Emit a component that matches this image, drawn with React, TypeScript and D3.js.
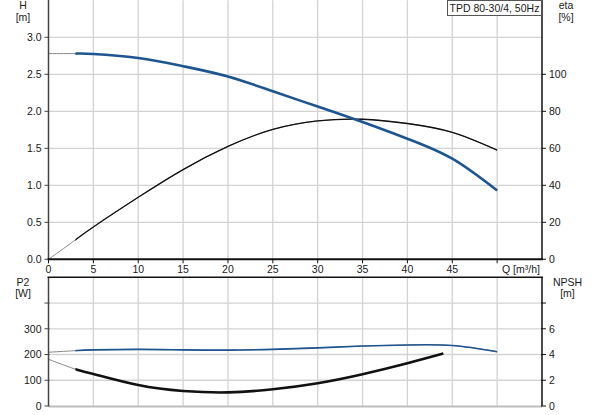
import { useEffect, useRef } from "react";
import * as d3 from "d3";

// pump curve data
const flowQ = [0, 3, 5, 10, 15, 20, 25, 30, 35, 40, 45, 50];
const headH = [2.78, 2.78, 2.775, 2.72, 2.61, 2.47, 2.27, 2.065, 1.855, 1.63, 1.36, 0.93];
const effEta = [0, 10.5, 17.5, 33.5, 48.5, 61, 70.2, 74.8, 75.7, 73.4, 68.6, 59];
const powerP2 = [209, 215, 218, 220, 218, 217, 220, 226, 233, 237, 235, 211];
const npshQ = [0, 3, 5, 10, 15, 20, 25, 30, 35, 40, 44];
const npshM = [3.63, 2.86, 2.49, 1.63, 1.17, 1.06, 1.3, 1.77, 2.47, 3.32, 4.07];

const qTicks = [0, 5, 10, 15, 20, 25, 30, 35, 40, 45];
const hTicks = [0, 0.5, 1, 1.5, 2, 2.5, 3];
const etaTicks = [0, 20, 40, 60, 80, 100];
const p2Ticks = [0, 100, 200, 300];
const npshTicks = [0, 2, 4, 6];

const FONT = "'Liberation Sans', Arial, sans-serif";
const BLUE = "#1d5590";
const GRID = "#d3d3d3";
const TXT = "#1a1a1a";
const OP_START = 3; // thin gray before this flow

const App = () => {
  const svgRef = useRef<SVGSVGElement>(null);

  useEffect(() => {
    if (!svgRef.current) return;
    const svg = d3.select(svgRef.current);
    svg.selectAll("*").remove();

    const x = d3.scaleLinear().domain([0, 55]).range([48.5, 542]);
    const yH = d3.scaleLinear().domain([0, 3.5]).range([259.3, 0.3]);
    const yEta = d3.scaleLinear().domain([0, 140]).range([259.3, 0.3]);
    const yP2 = d3.scaleLinear().domain([0, 500]).range([406, 277.3]);
    const yN = d3.scaleLinear().domain([0, 10]).range([406, 277.3]);

    const x0 = x(0);
    const x1 = x(55);

    // grids
    const grid = svg.append("g").attr("stroke", GRID).attr("stroke-width", 1.3);
    [...qTicks.slice(1), 50].forEach((q) => {
      grid.append("line").attr("x1", x(q)).attr("x2", x(q)).attr("y1", yH(3.5)).attr("y2", yH(0));
      grid.append("line").attr("x1", x(q)).attr("x2", x(q)).attr("y1", yP2(500)).attr("y2", yP2(0));
    });
    hTicks.slice(1).forEach((h) => {
      grid.append("line").attr("x1", x0).attr("x2", x1).attr("y1", yH(h)).attr("y2", yH(h));
    });
    [100, 200, 300, 400].forEach((p) => {
      grid.append("line").attr("x1", x0).attr("x2", x1).attr("y1", yP2(p)).attr("y2", yP2(p));
    });

    // curves: one smooth path, gray thin part drawn under the coloured part
    const drawCurve = (
      qs: number[],
      vs: number[],
      ys: d3.ScaleLinear<number, number>,
      color: string,
      width: number,
    ) => {
      const pts = qs.map((q, i) => [x(q), ys(vs[i])] as [number, number]);
      const line = d3.line().curve(d3.curveNatural);
      const full = line(pts) as string;
      const id = `clip-${color.replace("#", "")}-${width}-${qs.length}`;
      svg
        .append("clipPath")
        .attr("id", id)
        .append("rect")
        .attr("x", x(OP_START))
        .attr("y", 0)
        .attr("width", 600)
        .attr("height", 415);
      svg
        .append("path")
        .attr("d", full)
        .attr("fill", "none")
        .attr("stroke", "#8a8a8a")
        .attr("stroke-width", 1);
      svg
        .append("path")
        .attr("d", full)
        .attr("clip-path", `url(#${id})`)
        .attr("fill", "none")
        .attr("stroke", color)
        .attr("stroke-width", width);
    };

    drawCurve(flowQ, effEta, yEta, "#111", 1.3);
    drawCurve(flowQ, headH, yH, BLUE, 2.6);
    drawCurve(flowQ, powerP2, yP2, BLUE, 1.6);
    drawCurve(npshQ, npshM, yN, "#111", 2.6);

    // axes lines
    const ax = svg.append("g");
    ax.append("line").attr("x1", x0).attr("x2", x0).attr("y1", 0).attr("y2", yH(0)).attr("stroke", "#444").attr("stroke-width", 1.5);
    ax.append("line").attr("x1", x1).attr("x2", x1).attr("y1", 0).attr("y2", yH(0)).attr("stroke", "#111").attr("stroke-width", 1.5);
    ax.append("line").attr("x1", x0 - 1).attr("x2", x1 + 1).attr("y1", yH(0)).attr("y2", yH(0)).attr("stroke", "#111").attr("stroke-width", 2);

    ax.append("line").attr("x1", x0).attr("x2", x1).attr("y1", yP2(0) + 0.5).attr("y2", yP2(0) + 0.5).attr("stroke", "#bdbdbd").attr("stroke-width", 2);
    ax.append("line").attr("x1", x0).attr("x2", x0).attr("y1", yP2(500)).attr("y2", yP2(0)).attr("stroke", "#444").attr("stroke-width", 1.5);
    ax.append("line").attr("x1", x1).attr("x2", x1).attr("y1", yP2(500)).attr("y2", yP2(0)).attr("stroke", "#111").attr("stroke-width", 1.5);
    ax.append("line").attr("x1", x0 - 1).attr("x2", x1 + 1).attr("y1", yP2(500)).attr("y2", yP2(500)).attr("stroke", "#111").attr("stroke-width", 1.5);

    const text = (tx: number, ty: number, s: string, anchor = "middle") =>
      svg
        .append("text")
        .attr("x", tx)
        .attr("y", ty)
        .attr("text-anchor", anchor)
        .attr("font-family", FONT)
        .attr("font-size", 10.5)
        .attr("fill", TXT)
        .text(s);

    // left H ticks
    hTicks.forEach((h) => {
      ax.append("line").attr("x1", x0 - 4).attr("x2", x0).attr("y1", yH(h)).attr("y2", yH(h)).attr("stroke", "#444");
      text(41.5, yH(h) + 3.8, d3.format(".1f")(h), "end");
    });
    // right eta ticks
    etaTicks.forEach((e) => {
      ax.append("line").attr("x1", x1).attr("x2", x1 + 4).attr("y1", yEta(e)).attr("y2", yEta(e)).attr("stroke", "#111");
      text(549, yEta(e) + 3.8, String(e), "start");
    });
    // x ticks
    [...qTicks, 50].forEach((q) => {
      ax.append("line").attr("x1", x(q)).attr("x2", x(q)).attr("y1", yH(0)).attr("y2", yH(0) + 4).attr("stroke", "#111");
    });
    qTicks.forEach((q) => text(x(q), 273, String(q)));
    text(502, 273, "Q [m³/h]", "start");

    // bottom P2 / NPSH ticks
    [...p2Ticks, 400].forEach((p) => {
      ax.append("line").attr("x1", x0 - 4).attr("x2", x0 + 1).attr("y1", yP2(p)).attr("y2", yP2(p)).attr("stroke", "#444");
    });
    p2Ticks.forEach((p) => text(41.5, yP2(p) + 3.8, String(p), "end"));
    [...npshTicks, 8].forEach((n) => {
      ax.append("line").attr("x1", x1 - 1).attr("x2", x1 + 4).attr("y1", yN(n)).attr("y2", yN(n)).attr("stroke", "#111");
    });
    npshTicks.forEach((n) => text(549, yN(n) + 3.8, String(n), "start"));

    // axis titles
    text(23, 9, "H");
    text(23, 20.5, "[m]");
    text(566, 9, "eta");
    text(566, 20.5, "[%]");
    text(23, 286, "P2");
    text(23, 297, "[W]");
    text(567.5, 286, "NPSH");
    text(567.5, 297, "[m]");

    // legend box
    svg
      .append("rect")
      .attr("x", 447.5)
      .attr("y", 0.5)
      .attr("width", 94)
      .attr("height", 15)
      .attr("fill", "#fff")
      .attr("stroke", "#555")
      .attr("stroke-width", 1);
    text(449.5, 12, "TPD 80-30/4, 50Hz", "start");
  }, []);

  return (
    <svg
      ref={svgRef}
      width={593}
      height={415}
      style={{ position: "absolute", left: 0, top: 0, background: "#fff", display: "block" }}
    ></svg>
  );
};

export default App;
